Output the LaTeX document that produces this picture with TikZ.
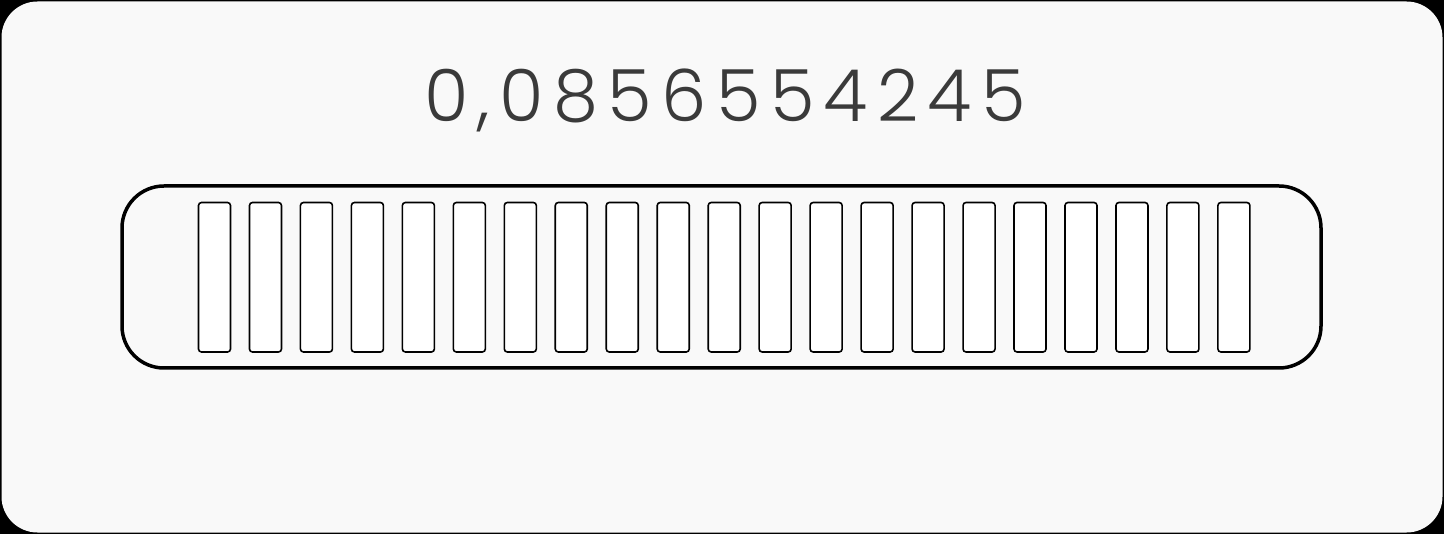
\documentclass[tikz,border=0pt]{standalone}
\usepackage{fontspec}
\newfontfamily\numfont{Poppins}[UprightFont={* Light}, LetterSpace=13]
\definecolor{panel}{HTML}{F9F9F9}
\definecolor{numcol}{HTML}{3A3A3A}
\tikzset{
  slot/.style={draw=black, line width=1.6pt, fill=white, rounded corners=3pt},
  bar/.style={draw=black, line width=3.5pt, rounded corners=42pt},
}
\begin{document}
\begin{tikzpicture}[x=1pt,y=-1pt]
\useasboundingbox (0,0) rectangle (1444,534);
\fill[black] (0,0) rectangle (1444,534);
\fill[panel, rounded corners=36pt] (1.5,1.5) rectangle (1442.5,532.5);
\node[font=\numfont\fontsize{72}{80}\selectfont, text=numcol, anchor=base, inner sep=0pt] (val) at (725,122) {0,0856554245};
\draw[bar] (122,186) rectangle (1321,368);
\foreach \i in {0,...,20} {
  \draw[slot] ({198.5+\i*50.97},202.5) rectangle ({230.5+\i*50.97},352);
}
\end{tikzpicture}
\end{document}
